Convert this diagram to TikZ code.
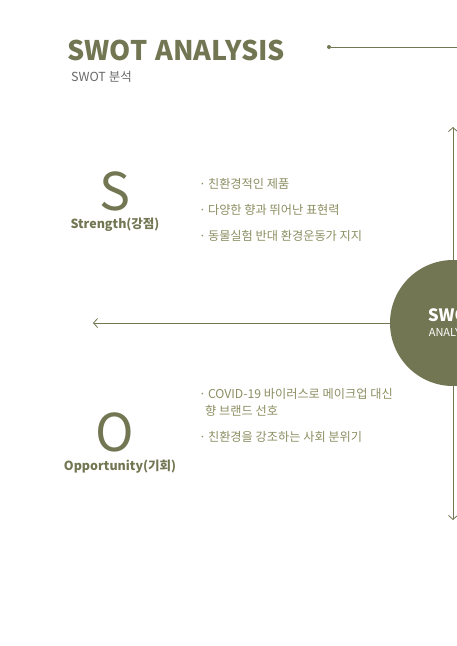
\documentclass[tikz,border=0pt]{standalone}
\usepackage{fontspec}
\setmainfont{Noto Sans CJK KR}
\usetikzlibrary{arrows.meta, positioning}
\definecolor{SWOlive}{RGB}{115, 118, 82}
\definecolor{SWText}{RGB}{140, 142, 98}
\definecolor{SWGray}{RGB}{105, 105, 105}
\newcommand{\bul}{\textperiodcentered\hspace{2pt}}

\begin{document}
\begin{tikzpicture}[
  x=1pt, y=-1pt,
  every node/.style={inner sep=0pt},
  title/.style={anchor=base west, text=SWOlive, font=\fontsize{27}{27}\selectfont\bfseries},
  sub/.style={anchor=west, text=SWGray, font=\fontsize{12.5}{12.5}\selectfont},
  letter/.style={text=SWOlive, font=\fontsize{52}{52}\selectfont},
  caption/.style={text=SWOlive, font=\fontsize{12.5}{12.5}\selectfont\bfseries},
  item/.style={anchor=west, text=SWText, align=left, font=\fontsize{12.2}{17}\selectfont},
  dot/.style={circle, fill=SWOlive, minimum size=4pt},
  arr/.style={-{Straight Barb[length=4pt, width=9pt]}, draw=SWOlive, line width=0.8pt}
]
  \useasboundingbox (0,0) rectangle (457,646);
  \clip (0,0) rectangle (457,646);

  %% Header
  \node[title] (head)  at (67,60) {SWOT\hspace{2pt} ANALYSIS};
  \node[sub]   (hsub)  at (71,77) {SWOT 분석};
  \node[dot]   (tdot)  at (329,47) {};
  \coordinate  (tend)  at (457,47);
  \draw[SWOlive, line width=1pt] (tdot) -- (tend);

  %% Axes
  \coordinate (vtop)  at (453,127);
  \coordinate (vbot)  at (453,520);
  \coordinate (hleft) at (93,323);
  \draw[arr, {Straight Barb[length=4pt, width=9pt]}-{Straight Barb[length=4pt, width=9pt]}] (vbot) -- (vtop);
  \node[circle, fill=SWOlive, minimum size=126pt, align=center, text=white,
        font=\fontsize{11}{14}\selectfont] (swot) at (453,323)
    {{\fontsize{17}{17}\selectfont\bfseries SWOT}\\[1pt]ANALYSIS};
  \draw[arr] (swot) -- (hleft);

  %% Strength
  \node[letter]  (s)    at (115,191) {S};
  \node[caption] (scap) at (115,225) {Strength(강점)};
  \node[item]    (s1)   at (199,184) {\bul 친환경적인 제품};
  \node[item]    (s2)   at (199,210) {\bul 다양한 향과 뛰어난 표현력};
  \node[item]    (s3)   at (199,236) {\bul 동물실험 반대 환경운동가 지지};

  %% Opportunity
  \node[letter]  (o)    at (115,432) {O};
  \node[caption] (ocap) at (120,467) {Opportunity(기회)};
  \node[item]    (o1)   at (199,402) {\bul COVID-19 바이러스로 메이크업 대신\\\hspace{6pt}향 브랜드 선호};
  \node[item]    (o2)   at (199,437) {\bul 친환경을 강조하는 사회 분위기};
\end{tikzpicture}
\end{document}
